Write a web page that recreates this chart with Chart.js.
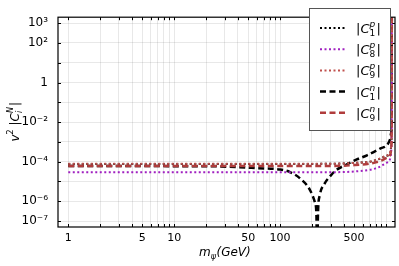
<!DOCTYPE html>
<html>
<head>
<meta charset="utf-8">
<script src="https://cdn.jsdelivr.net/npm/chart.js@4"></script>
<style>
  body { margin: 0; background: #fff; }
  canvas { display: block; }
</style>
</head>
<body>
<canvas id="cnChart" width="399" height="266"></canvas>
<script>
// masses (GeV) shared by the flat curves
const mFlat = [1, 10, 100, 300, 400, 500, 600, 700, 800, 900, 1000, 1100, 1120, 1130, 1135];
const c1p = [7.7e-5, 7.7e-5, 7.7e-5, 7.8e-5, 8.1e-5, 8.6e-5, 9.1e-5, 9.9e-5, 1.18e-4, 1.5e-4, 1.95e-4, 2.9e-4, 6.8e-4, 4.8e-3, 1e4];
const c8p = [2.9e-5, 2.9e-5, 2.9e-5, 2.95e-5, 3.0e-5, 3.2e-5, 3.5e-5, 3.9e-5, 4.6e-5, 6.0e-5, 8.5e-5, 1.5e-4, 3.5e-4, 3e-3, 1e4];
const c9p = [7.8e-5, 7.8e-5, 7.8e-5, 7.9e-5, 8.2e-5, 8.7e-5, 9.2e-5, 1.0e-4, 1.2e-4, 1.55e-4, 2.0e-4, 3.0e-4, 7e-4, 5e-3, 1e4];
const c9n = [6.0e-5, 6.0e-5, 6.0e-5, 6.1e-5, 6.3e-5, 6.7e-5, 7.2e-5, 8.0e-5, 9.2e-5, 1.12e-4, 1.5e-4, 2.4e-4, 5e-4, 4e-3, 1e4];
// C1^n has a zero near 224 GeV
const mC1n = [1, 20, 40, 60, 100, 124, 155, 190, 213, 220, 224, 228, 237, 264, 296, 330, 427, 530, 661, 880, 1090, 1120, 1130, 1135];
const c1n = [6e-5, 5.9e-5, 5.3e-5, 4.7e-5, 4e-5, 3e-5, 1.4e-5, 4e-6, 9e-7, 2.5e-7, 1e-9, 2.5e-7, 2e-6, 8e-6, 1.8e-5, 3.4e-5, 7.3e-5, 1.3e-4, 2.1e-4, 4.6e-4, 1.3e-3, 3e-3, 1e-2, 1e4];

const yTicks = [1e-7, 1e-6, 1e-5, 1e-4, 1e-3, 1e-2, 1e-1, 1, 10, 100, 1000];
const yLabels = { '1e-7': '10⁻⁷', '0.000001': '10⁻⁶', '0.0001': '10⁻⁴', '0.01': '10⁻²', '1': '1', '100': '10²', '1000': '10³' };
const xTicks = [1, 2, 3, 4, 5, 6, 7, 8, 9, 10, 20, 30, 40, 50, 60, 70, 80, 90, 100, 200, 300, 400, 500, 600, 700, 800, 900, 1000];
const xLabels = [1, 5, 10, 50, 100, 500];

const RED = '#c0504d', RED_D = '#b03c3c', PURPLE = '#a020c0';

function pts(xs, ys) { return xs.map((x, i) => ({ x: x, y: ys[i] })); }

const series = [
  { name: ['1', 'p'], data: pts(mFlat, c1p), color: '#000', dash: [2, 2.5], width: 2, order: 5 },
  { name: ['8', 'p'], data: pts(mFlat, c8p), color: PURPLE, dash: [2, 2.5], width: 2, order: 3 },
  { name: ['9', 'p'], data: pts(mFlat, c9p), color: RED, dash: [2, 2.5], width: 2, order: 1 },
  { name: ['1', 'n'], data: pts(mC1n, c1n), color: '#000', dash: [6, 3.5], width: 2.5, order: 4 },
  { name: ['9', 'n'], data: pts(mFlat, c9n), color: RED_D, dash: [6, 3.5], width: 2.5, order: 2 }
];

function drawC(ctx, x, y, sub, sup) {
  ctx.textAlign = 'left';
  ctx.textBaseline = 'alphabetic';
  ctx.font = '13px "DejaVu Sans"';
  ctx.fillText('|', x, y);
  let w = ctx.measureText('|').width;
  ctx.font = 'italic 13px "DejaVu Sans"';
  ctx.fillText('C', x + w, y);
  w += ctx.measureText('C').width;
  ctx.font = 'italic 9px "DejaVu Sans"';
  ctx.fillText(sup, x + w, y - 6);
  ctx.font = '9px "DejaVu Sans"';
  ctx.fillText(sub, x + w, y + 3);
  w += Math.max(ctx.measureText(sub).width, 6) + 1;
  ctx.font = '13px "DejaVu Sans"';
  ctx.fillText('|', x + w, y);
}

const decor = {
  id: 'decor',
  beforeDatasetsDraw(chart) {
    const { ctx, chartArea: a } = chart;
    ctx.save();
    ctx.strokeStyle = '#000';
    ctx.lineWidth = 1;
    const xs = chart.scales.x, ys = chart.scales.y;
    ctx.beginPath();
    xTicks.forEach(v => {
      const px = Math.round(xs.getPixelForValue(v)) + 0.5;
      ctx.moveTo(px, a.bottom); ctx.lineTo(px, a.bottom - 3);
      ctx.moveTo(px, a.top); ctx.lineTo(px, a.top + 3);
    });
    yTicks.forEach(v => {
      const py = Math.round(ys.getPixelForValue(v)) + 0.5;
      ctx.moveTo(a.left, py); ctx.lineTo(a.left + 3, py);
      ctx.moveTo(a.right, py); ctx.lineTo(a.right - 3, py);
    });
    ctx.stroke();
    ctx.restore();
  },
  afterDraw(chart) {
    const { ctx, chartArea: a } = chart;
    ctx.save();
    // frame
    ctx.strokeStyle = '#000';
    ctx.lineWidth = 1.2;
    ctx.strokeRect(a.left, a.top, a.right - a.left, a.bottom - a.top);

    // legend
    const lx = 309, ly = 8, lw = 81, lh = 122;
    ctx.fillStyle = '#fff';
    ctx.fillRect(lx, ly, lw, lh);
    ctx.strokeStyle = '#555';
    ctx.lineWidth = 1;
    ctx.strokeRect(lx + 0.5, ly + 0.5, lw, lh);
    series.forEach((s, i) => {
      const yy = 28 + i * 21.2;
      ctx.strokeStyle = s.color;
      ctx.lineWidth = s.width;
      ctx.setLineDash(s.dash);
      ctx.beginPath();
      ctx.moveTo(320, yy); ctx.lineTo(347, yy);
      ctx.stroke();
      ctx.setLineDash([]);
      ctx.fillStyle = '#000';
      drawC(ctx, 356, yy + 5, s.name[0], s.name[1]);
    });

    // axis titles
    ctx.fillStyle = '#000';
    ctx.save();
    ctx.translate(19, 117);
    ctx.rotate(-Math.PI / 2);
    ctx.font = '12px "DejaVu Sans"';
    const t1 = 'v';
    ctx.font = 'italic 12px "DejaVu Sans"';
    const w1 = ctx.measureText(t1).width;
    const total = w1 + 6 + 4 + 32;
    let x0 = -total / 2;
    ctx.textBaseline = 'alphabetic';
    ctx.textAlign = 'left';
    ctx.fillText(t1, x0, 0);
    ctx.font = '8px "DejaVu Sans"';
    ctx.fillText('2', x0 + w1, -6);
    x0 += w1 + 9;
    ctx.font = '12px "DejaVu Sans"';
    ctx.fillText('|', x0, 0);
    x0 += ctx.measureText('|').width;
    ctx.font = 'italic 12px "DejaVu Sans"';
    ctx.fillText('C', x0, 0);
    x0 += ctx.measureText('C').width;
    ctx.font = 'italic 8px "DejaVu Sans"';
    ctx.fillText('N', x0, -6);
    ctx.fillText('i', x0, 3);
    x0 += 7;
    ctx.font = '12px "DejaVu Sans"';
    ctx.fillText('|', x0, 0);
    ctx.restore();

    ctx.textBaseline = 'alphabetic';
    ctx.textAlign = 'left';
    let bx = 199;
    const by = 256;
    ctx.font = 'italic 12px "DejaVu Sans"';
    ctx.fillText('m', bx, by);
    bx += ctx.measureText('m').width;
    ctx.font = 'italic 8px "DejaVu Sans"';
    ctx.fillText('ψ', bx, by + 3);
    bx += ctx.measureText('ψ').width + 0.5;
    ctx.font = 'italic 12px "DejaVu Sans"';
    ctx.fillText('(GeV)', bx, by);
    ctx.restore();
  }
};

const ctx = document.getElementById('cnChart').getContext('2d');
new Chart(ctx, {
  type: 'line',
  data: {
    datasets: series.map(s => ({
      label: s.name.join(''),
      data: s.data,
      borderColor: s.color,
      borderDash: s.dash,
      borderWidth: s.width,
      pointRadius: 0,
      fill: false,
      cubicInterpolationMode: 'monotone',
      order: s.order
    }))
  },
  options: {
    responsive: false,
    animation: false,
    layout: { padding: { top: 2, right: 4, left: 0, bottom: 0 } },
    plugins: { legend: { display: false }, tooltip: { enabled: false } },
    scales: {
      x: {
        type: 'logarithmic',
        min: 0.8,
        max: 1216,
        afterBuildTicks: sc => { sc.ticks = xTicks.map(v => ({ value: v })); },
        afterFit: sc => { sc.height = 39; },
        grid: { color: 'rgba(0,0,0,0.09)', drawTicks: false },
        border: { display: false },
        ticks: {
          autoSkip: false,
          maxRotation: 0,
          padding: 5,
          color: '#000',
          font: { family: 'DejaVu Sans', size: 11 },
          callback: v => xLabels.includes(v) ? String(v) : ''
        }
      },
      y: {
        type: 'logarithmic',
        min: 5e-8,
        max: 2000,
        afterBuildTicks: sc => { sc.ticks = yTicks.map(v => ({ value: v })); },
        afterFit: sc => { sc.width = 58; },
        grid: { color: 'rgba(0,0,0,0.09)', drawTicks: false },
        border: { display: false },
        ticks: {
          autoSkip: false,
          padding: 10,
          color: '#000',
          font: { family: 'DejaVu Sans', size: 12 },
          callback: v => yLabels[String(v)] || ''
        }
      }
    }
  },
  plugins: [decor]
});
</script>
</body>
</html>
